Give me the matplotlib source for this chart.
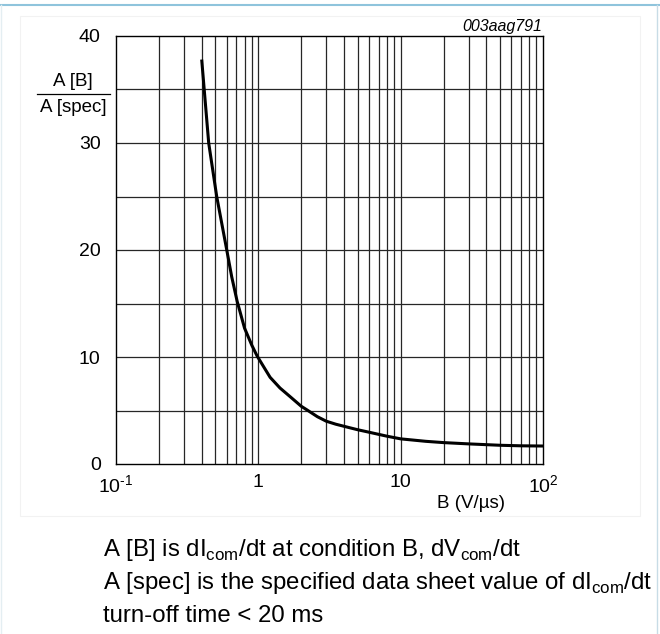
import numpy as np
import matplotlib
matplotlib.use('Agg')
import matplotlib.pyplot as plt
from matplotlib.patches import Rectangle
from matplotlib.lines import Line2D

plt.rcParams['font.family'] = ['Liberation Sans', 'DejaVu Sans']

# values
b = [0.40, 0.448, 0.51, 0.60, 0.65, 0.71, 0.80, 0.90, 0.98, 1.1, 1.21, 1.42,
     1.67, 2.0, 2.2, 2.6, 3.0, 3.5, 4.41, 5.0, 6.0, 8.0, 10, 15, 20, 30, 50,
     70, 100]
ratio = [37.8, 30.0, 25.0, 20.0, 17.5, 15.2, 12.7, 11.1, 10.1, 9.0, 8.1, 7.1,
         6.3, 5.4, 5.05, 4.42, 4.0, 3.72, 3.38, 3.2, 2.97, 2.6, 2.35, 2.12,
         2.0, 1.88, 1.75, 1.70, 1.68]

xticks = [0.1, 1, 10, 100]
xticklabels = ['$\\mathregular{10^{\u20101}}$', '1', '10', r'$\mathregular{10^{2}}$']
yticks = [0, 10, 20, 30, 40]

notes = [r'A [B] is dI$_\mathregular{com}$/dt at condition B, dV$_\mathregular{com}$/dt',
         r'A [spec] is the specified data sheet value of dI$_\mathregular{com}$/dt',
         'turn-off time < 20 ms']

W, H = 660, 634
fig = plt.figure(figsize=(W / 100, H / 100), dpi=100)


def px(x, y):
    return x / W, 1 - y / H


# frame of the picture
fig.add_artist(Line2D([0, 1], [1 - 5 / H] * 2, color='#8fc4dc', lw=1.5))
fig.add_artist(Line2D([657 / W] * 2, [0, 1 - 5 / H], color='#c8dce6', lw=1))
fig.add_artist(Line2D([1 / W] * 2, [0, 1 - 5 / H], color='#e4eef2', lw=1))
fig.add_artist(Rectangle(px(20, 516), 620 / W, 500 / H, fill=False,
                         ec='#f2f2f2', lw=0.8))

ax = fig.add_axes([116 / W, 1 - 464 / H, 427 / W, 428 / H])
ax.set_xscale('log')
ax.set_xlim(0.1, 100)
ax.set_ylim(0, 40)

# grid
minor = [m * 10.0 ** e for e in (-1, 0, 1) for m in range(1, 10)]
for v in minor[1:]:
    ax.axvline(v, color='#262626', lw=0.9, zorder=1)
for v in np.arange(5, 40, 5):
    ax.axhline(v, color='#262626', lw=0.9, zorder=1)

ax.plot(b, ratio, color='black', lw=2.2, zorder=3, solid_capstyle='butt',
        solid_joinstyle='round')

ax.set_xticks(xticks)
ax.set_xticklabels(xticklabels)
ax.xaxis.set_minor_locator(matplotlib.ticker.NullLocator())
ax.set_yticks(yticks)
ax.tick_params(length=0, labelsize=14, pad=7)
ax.tick_params(axis='y', pad=11)
for s in ax.spines.values():
    s.set_linewidth(1.0)

# y label as a fraction
fig.text(*px(73, 81), 'A [B]', ha='center', va='center', fontsize=13.5)
fig.add_artist(Line2D([37 / W, 110 / W], [1 - 94 / H] * 2, color='black', lw=0.9))
fig.text(*px(73, 108), 'A [spec]', ha='center', va='center', fontsize=13.5)

fig.text(*px(542, 26), '003aag791', ha='right', va='center', fontsize=11.5,
         style='italic')
fig.text(*px(471, 503), 'B (V/\u00b5s)', ha='center', va='center', fontsize=13.5)

for i, t in enumerate(notes):
    fig.text(*px(103, 550 + 33 * i), t, ha='left', va='center', fontsize=17.3)

fig.savefig('out.png', dpi=100)
